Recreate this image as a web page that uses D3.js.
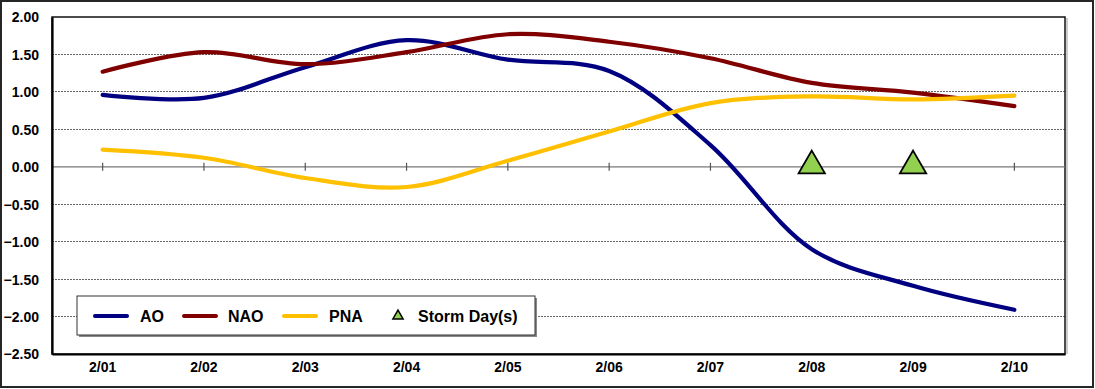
<!DOCTYPE html>
<html><head><meta charset="utf-8">
<script src="https://cdn.jsdelivr.net/npm/d3@7"></script>
<style>
html,body{margin:0;padding:0;background:#fff;}
svg text{font-family:"Liberation Sans",Arial,sans-serif;font-weight:bold;fill:#000;}
</style></head>
<body><svg id="c" width="1095" height="389"></svg>
<script>
const categories = ["2/01","2/02","2/03","2/04","2/05","2/06","2/07","2/08","2/09","2/10"];
const aoValues  = [0.96, 0.92, 1.33, 1.69, 1.43, 1.28, 0.29, -1.10, -1.59, -1.91];
const naoValues = [1.27, 1.53, 1.37, 1.53, 1.77, 1.67, 1.45, 1.12, 0.99, 0.81];
const pnaValues = [0.23, 0.12, -0.15, -0.27, 0.08, 0.47, 0.85, 0.94, 0.90, 0.95];
const stormDays = ["2/08","2/09"];
const stormValues = [0, 0];
const yTicks = [2.0,1.5,1.0,0.5,0.0,-0.5,-1.0,-1.5,-2.0,-2.5];

const svg = d3.select("#c");
svg.append("rect").attr("x",1).attr("y",1).attr("width",1092).attr("height",386)
  .attr("fill","#fff").attr("stroke","#262626").attr("stroke-width",2);

const L=52, R=1065, T=17, B=354;
const x = d3.scaleBand().domain(categories).range([L,R]);
const xc = d => x(d)+x.bandwidth()/2;
const y = d3.scaleLinear().domain([-2.5,2.0]).range([B,T]);

svg.append("g").selectAll("line").data(yTicks.filter(v=>v!==0 && v!==2 && v!==-2.5)).join("line")
  .attr("x1",L).attr("x2",R).attr("y1",d=>y(d)).attr("y2",d=>y(d))
  .attr("stroke","#666").attr("stroke-width",1).attr("stroke-dasharray","2,1").attr("shape-rendering","crispEdges");

svg.append("rect").attr("x",L).attr("y",T).attr("width",R-L).attr("height",B-T)
  .attr("fill","none").attr("stroke","#111").attr("stroke-width",1.5);
svg.append("line").attr("x1",R+2).attr("x2",R+2).attr("y1",T+1).attr("y2",B)
  .attr("stroke","#999").attr("stroke-width",1);

svg.append("line").attr("x1",L).attr("x2",R).attr("y1",y(0)).attr("y2",y(0))
  .attr("stroke","#777").attr("stroke-width",1.2);
svg.append("g").selectAll("line").data(categories).join("line")
  .attr("x1",d=>xc(d)).attr("x2",d=>xc(d)).attr("y1",y(0)-4).attr("y2",y(0)+4)
  .attr("stroke","#555").attr("stroke-width",1.2);

const yAxis = d3.axisLeft(y).tickValues(yTicks).tickFormat(d3.format(".2f")).tickSize(0).tickPadding(13);
const yg = svg.append("g").attr("transform",`translate(${L},0)`).call(yAxis);
yg.select(".domain").attr("stroke","#000").attr("stroke-width",2.2);
yg.selectAll("text").style("font-size","14px").attr("dy","0.35em");

const xAxis = d3.axisBottom(x).tickSize(0).tickPadding(8);
const xg = svg.append("g").attr("transform",`translate(0,${B})`).call(xAxis);
xg.select(".domain").attr("stroke","#000").attr("stroke-width",2);
xg.selectAll("text").style("font-size","14px");

const line = d3.line().x((d,i)=>xc(categories[i])).y(d=>y(d)).curve(d3.curveCatmullRom.alpha(0.5));
const series = [
  {vals:aoValues,color:"#000080"},
  {vals:naoValues,color:"#800000"},
  {vals:pnaValues,color:"#FFC000"}
];
series.forEach(s=>{
  svg.append("path").attr("d",line(s.vals)).attr("fill","none")
    .attr("stroke",s.color).attr("stroke-width",4.2).attr("stroke-linecap","round");
});

const tri = d3.symbol().type(d3.symbolTriangle).size(300);
svg.append("g").selectAll("path").data(stormDays).join("path")
  .attr("d",tri)
  .attr("transform",(d,i)=>`translate(${xc(d)},${y(stormValues[i])-1})`)
  .attr("fill","#92D050").attr("stroke","#000").attr("stroke-width",1.8).attr("stroke-linejoin","miter");

const lg = svg.append("g");
lg.append("rect").attr("x",79).attr("y",298).attr("width",458).attr("height",39).attr("fill","#888");
lg.append("rect").attr("x",77).attr("y",296).attr("width",458).attr("height",39)
  .attr("fill","#fff").attr("stroke","#333").attr("stroke-width",1);
const legItems = [
  {name:"AO",color:"#000080",lx:93,tx:140},
  {name:"NAO",color:"#800000",lx:182,tx:228},
  {name:"PNA",color:"#FFC000",lx:282,tx:329}
];
legItems.forEach(it=>{
  lg.append("line").attr("x1",it.lx+2).attr("x2",it.lx+34).attr("y1",316).attr("y2",316)
    .attr("stroke",it.color).attr("stroke-width",4).attr("stroke-linecap","round");
  lg.append("text").attr("x",it.tx).attr("y",322).style("font-size","16px").text(it.name);
});
lg.append("path").attr("d",d3.symbol().type(d3.symbolTriangle).size(45))
  .attr("transform","translate(398,316)").attr("fill","#92D050").attr("stroke","#000").attr("stroke-width",1.5);
lg.append("text").attr("x",418).attr("y",322).style("font-size","16px").text("Storm Day(s)");
</script></body></html>
